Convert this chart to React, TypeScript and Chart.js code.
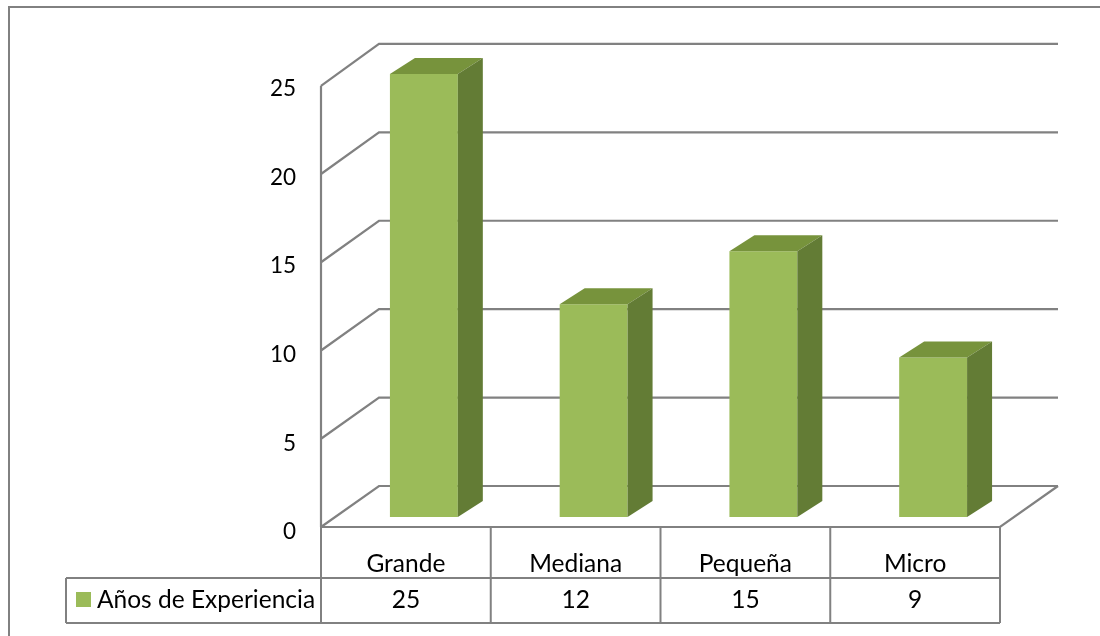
import React, { useEffect, useRef } from "react";
import { Chart, registerables } from "chart.js";

Chart.register(...registerables);

// Chart data
const categories = ["Grande", "Mediana", "Pequeña", "Micro"];
const seriesName = "Años de Experiencia";
const experienceYears = [25, 12, 15, 9];
const yMin = 0;
const yMax = 25;
const yStep = 5;

// Styling
const FONT_FAMILY = "Lato, 'Open Sans', sans-serif";
const TICK_FONT_SIZE = 22.5;
const TABLE_FONT_SIZE = 24.5;
const LINE_COLOR = "#818181";
const BAR_FRONT = "#9BBB59";
const BAR_TOP = "#77933C";
const BAR_SIDE = "#637C35";

// Depth planes, measured from the plane the bar fronts sit on (chart area)
const FRONT_DX = -18;
const FRONT_DY = 10;
const FRONT_SCALE = 0.996;
const BACK_DX = 40;
const BACK_DY = -31;
const BACK_SCALE = 0.998;
const BAR_DEPTH_X = 25;
const BAR_DEPTH_Y = -16;

// Data table rows
const HEADER_ROW_H = 51;
const VALUE_ROW_H = 45;
const LEGEND_CELL_LEFT = 66;

const wallsAndTable = {
  id: "wallsAndTable",
  beforeDraw(chart: any) {
    const ctx = chart.ctx;
    ctx.save();
    ctx.fillStyle = "#ffffff";
    ctx.fillRect(0, 0, chart.width, chart.height);
    // chart frame
    ctx.strokeStyle = LINE_COLOR;
    ctx.lineWidth = 2;
    ctx.beginPath();
    ctx.moveTo(9, chart.height + 4);
    ctx.lineTo(9, 7);
    ctx.lineTo(chart.width + 4, 7);
    ctx.stroke();
    ctx.restore();
  },
  beforeDatasetsDraw(chart: any) {
    const ctx = chart.ctx;
    const { left, right, bottom } = chart.chartArea;
    const y = chart.scales.y;
    const x = chart.scales.x;
    const fx = (px: number) => px + FRONT_DX;
    const fy = (v: number) => bottom + FRONT_DY - (bottom - y.getPixelForValue(v)) * FRONT_SCALE;
    const bx = (px: number) => px + BACK_DX;
    const by = (v: number) => bottom + BACK_DY - (bottom - y.getPixelForValue(v)) * BACK_SCALE;

    ctx.save();
    ctx.strokeStyle = LINE_COLOR;
    ctx.lineWidth = 2.2;
    ctx.lineJoin = "miter";

    // side wall diagonals + back wall gridlines
    for (const t of y.ticks) {
      const v = t.value;
      ctx.beginPath();
      ctx.moveTo(fx(left), fy(v));
      ctx.lineTo(bx(left), by(v));
      ctx.lineTo(bx(right), by(v));
      ctx.stroke();
    }
    // front edge of the side wall
    ctx.beginPath();
    ctx.moveTo(fx(left), fy(yMax));
    ctx.lineTo(fx(left), fy(yMin));
    ctx.stroke();
    // floor front and right edge
    ctx.beginPath();
    ctx.moveTo(fx(left), fy(yMin));
    ctx.lineTo(fx(right), fy(yMin));
    ctx.lineTo(bx(right), by(yMin));
    ctx.stroke();

    // data table
    const rowTop = fy(yMin);
    const rowMid = rowTop + HEADER_ROW_H;
    const rowBot = rowMid + VALUE_ROW_H;
    const n = categories.length;
    const cw = (right - left) / n;
    ctx.lineWidth = 2;
    ctx.beginPath();
    ctx.moveTo(LEGEND_CELL_LEFT, rowMid);
    ctx.lineTo(fx(right), rowMid);
    ctx.moveTo(LEGEND_CELL_LEFT, rowBot);
    ctx.lineTo(fx(right), rowBot);
    ctx.moveTo(LEGEND_CELL_LEFT, rowMid);
    ctx.lineTo(LEGEND_CELL_LEFT, rowBot);
    for (let i = 0; i <= n; i++) {
      const ex = fx(left + i * cw);
      ctx.moveTo(ex, rowTop);
      ctx.lineTo(ex, rowBot);
    }
    ctx.stroke();

    ctx.fillStyle = "#000000";
    ctx.font = `${TABLE_FONT_SIZE}px ${FONT_FAMILY}`;
    ctx.textAlign = "center";
    ctx.textBaseline = "alphabetic";
    const ds = chart.data.datasets[0];
    categories.forEach((c, i) => {
      const cx = fx(x.getPixelForValue(i));
      ctx.fillText(c, cx, rowMid - 6);
      ctx.fillText(String(ds.data[i]), cx, rowBot - 15);
    });

    // legend key in the table
    ctx.fillStyle = BAR_FRONT;
    ctx.fillRect(LEGEND_CELL_LEFT + 10, rowBot - 31, 15, 15);
    ctx.fillStyle = "#000000";
    ctx.textAlign = "left";
    ctx.fillText(ds.label, LEGEND_CELL_LEFT + 31, rowBot - 15);
    ctx.restore();
  },
  afterDatasetsDraw(chart: any) {
    const ctx = chart.ctx;
    const meta = chart.getDatasetMeta(0);
    ctx.save();
    for (const bar of meta.data) {
      const { x, y, base, width } = bar.getProps(["x", "y", "base", "width"], true);
      const l = x - width / 2;
      const r = x + width / 2;
      // top face
      ctx.fillStyle = BAR_TOP;
      ctx.beginPath();
      ctx.moveTo(l, y);
      ctx.lineTo(l + BAR_DEPTH_X, y + BAR_DEPTH_Y);
      ctx.lineTo(r + BAR_DEPTH_X, y + BAR_DEPTH_Y);
      ctx.lineTo(r, y);
      ctx.closePath();
      ctx.fill();
      // side face
      ctx.fillStyle = BAR_SIDE;
      ctx.beginPath();
      ctx.moveTo(r, y);
      ctx.lineTo(r + BAR_DEPTH_X, y + BAR_DEPTH_Y);
      ctx.lineTo(r + BAR_DEPTH_X, base + BAR_DEPTH_Y);
      ctx.lineTo(r, base);
      ctx.closePath();
      ctx.fill();
    }
    ctx.restore();
  },
};

export default function App() {
  const canvasRef = useRef<HTMLCanvasElement | null>(null);

  useEffect(() => {
    const canvas = canvasRef.current;
    if (!canvas) return;
    const chart = new Chart(canvas, {
      type: "bar",
      data: {
        labels: categories,
        datasets: [
          {
            label: seriesName,
            data: experienceYears,
            backgroundColor: BAR_FRONT,
            borderWidth: 0,
            categoryPercentage: 1,
            barPercentage: 0.4,
          },
        ],
      },
      options: {
        animation: false,
        responsive: false,
        devicePixelRatio: 1,
        layout: { padding: { left: 239, right: 82, top: 74, bottom: 119 } },
        plugins: {
          legend: { display: false },
          tooltip: { enabled: false },
        },
        scales: {
          x: { display: false },
          y: {
            min: yMin,
            max: yMax,
            afterFit(scale: any) {
              scale.width = 100;
            },
            grid: { display: false, drawTicks: false },
            border: { display: false },
            ticks: {
              stepSize: yStep,
              padding: 43,
              labelOffset: 15,
              color: "#000000",
              font: { family: FONT_FAMILY, size: TICK_FONT_SIZE },
            },
          },
        },
      },
      plugins: [wallsAndTable],
    });
    return () => chart.destroy();
  }, []);

  return (
    <div style={{ position: "fixed", left: 0, top: 0, width: 1100, height: 636 }}>
      <canvas ref={canvasRef} width={1100} height={636} style={{ display: "block" }} />
    </div>
  );
}
